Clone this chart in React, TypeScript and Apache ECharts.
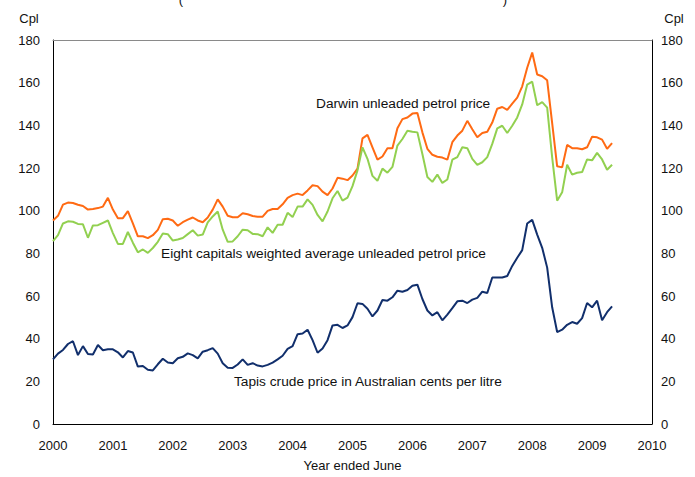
import React, { useEffect, useRef } from "react";
import * as echarts from "echarts";

const START_YEAR = 2000;
const yTicks = { min: 0, max: 180, step: 20 };
const xTicks = { min: 2000, max: 2010, step: 1 };

const darwin = [
  95.4, 97.6, 102.8, 103.8, 103.6, 102.8, 102.2, 100.5, 100.8, 101.2, 101.9, 106.0,
  100.5, 96.5, 96.5, 99.8, 94.0, 88.0, 88.0, 87.1, 88.5, 91.0, 96.0, 96.2,
  95.4, 92.9, 94.6, 95.8, 96.8, 95.4, 94.6, 96.8, 100.5, 105.3, 101.9, 97.6,
  96.9, 96.9, 98.8, 98.3, 97.5, 97.2, 97.2, 99.9, 100.8, 100.8, 103.0, 106.0,
  107.3, 108.0, 107.3, 109.5, 111.9, 111.5, 108.9, 107.3, 110.4, 115.4, 115.0, 114.3,
  116.5, 119.7, 133.9, 135.5, 129.7, 123.9, 125.4, 129.3, 129.3, 138.6, 142.9, 143.7,
  145.5, 145.8, 136.7, 129.0, 126.2, 125.3, 124.9, 123.9, 132.1, 135.2, 137.5, 142.1,
  138.2, 134.4, 136.4, 137.0, 141.3, 147.8, 148.6, 147.2, 150.2, 153.0, 158.3, 167.0,
  174.1, 163.8, 163.0, 161.1, 141.0, 120.8, 120.3, 130.8, 129.3, 129.3, 128.8, 129.7,
  134.7, 134.4, 133.3, 129.0, 131.7,
];

const eightCapitals = [
  85.7, 88.5, 94.0, 95.0, 94.8, 93.8, 93.6, 87.3, 93.1, 93.2, 94.3, 95.4,
  89.5, 84.4, 84.4, 90.0, 85.0, 80.5, 81.8, 80.2, 82.5, 85.4, 89.3, 89.0,
  86.0, 86.5, 87.2, 89.0, 90.8, 88.3, 88.8, 94.5, 97.3, 99.6, 91.1, 85.4,
  85.6, 88.0, 91.1, 90.8, 89.1, 89.0, 88.0, 92.2, 89.6, 93.4, 93.4, 99.0,
  97.0, 101.9, 101.9, 105.3, 102.7, 98.0, 95.0, 99.6, 105.8, 109.2, 104.7, 106.1,
  111.5, 118.9, 129.7, 124.3, 116.3, 114.0, 119.7, 117.8, 120.5, 130.5, 133.6, 137.5,
  137.0, 136.7, 126.6, 115.8, 113.5, 116.9, 113.0, 114.6, 123.9, 125.1, 129.7, 129.3,
  124.3, 121.5, 122.7, 125.1, 131.3, 138.6, 139.8, 136.4, 139.8, 143.7, 149.8, 159.1,
  160.5, 149.4, 150.9, 148.3, 125.0, 104.7, 108.6, 121.5, 116.9, 117.8, 118.1, 124.0,
  123.6, 127.1, 124.0, 119.2, 121.5,
];

const tapis = [
  30.3, 33.0, 34.7, 37.5, 38.8, 32.3, 36.5, 32.8, 32.6, 37.0, 34.6, 35.0,
  35.0, 33.6, 31.2, 34.2, 33.5, 26.9, 27.2, 25.4, 25.1, 28.0, 30.6, 28.8,
  28.5, 30.8, 31.5, 33.1, 32.3, 30.8, 33.9, 34.6, 35.6, 33.0, 28.5, 26.4,
  26.3, 27.9, 30.3, 27.7, 28.5, 27.4, 27.0, 27.7, 28.8, 30.3, 32.0, 35.2,
  36.5, 42.1, 42.4, 44.2, 39.3, 33.4, 35.4, 39.3, 46.2, 46.5, 45.0, 46.2,
  50.1, 56.6, 56.3, 54.0, 50.4, 53.2, 58.1, 57.8, 59.4, 62.5, 62.0, 62.8,
  64.8, 65.3, 58.6, 53.2, 50.9, 52.4, 48.6, 51.3, 54.3, 57.5, 57.8, 56.7,
  58.3, 59.1, 62.0, 61.4, 68.7, 68.7, 68.7, 69.4, 74.1, 77.9, 81.5, 94.0,
  95.7, 88.8, 82.6, 73.3, 54.7, 43.1, 44.2, 46.5, 47.8, 47.0, 49.6, 56.7,
  54.7, 57.8, 48.6, 52.4, 55.1,
];

const seriesNames = [
  "Darwin unleaded petrol price",
  "Eight capitals weighted average unleaded petrol price",
  "Tapis crude price in Australian cents per litre",
];
const unitLabel = "Cpl";
const xAxisTitle = "Year ended June";

const FONT = "'Liberation Sans', Arial, sans-serif";

function toPoints(values: number[]) {
  return values.map((v, i) => [START_YEAR + i / 12, v]);
}

export default function App() {
  const ref = useRef<HTMLDivElement>(null);
  useEffect(() => {
    document.body.style.margin = "0";
    if (!ref.current) return;
    const chart = echarts.init(ref.current, undefined, { renderer: "svg" });
    const yAxisBase = {
      type: "value" as const,
      min: yTicks.min,
      max: yTicks.max,
      interval: yTicks.step,
      axisLine: { show: true, lineStyle: { color: "#000", width: 1 } },
      axisTick: { show: false },
      splitLine: { show: false },
    };
    const txt = (text: string, x: number, y: number, align = "left", size = 13) => ({
      type: "text",
      x,
      y,
      style: {
        text,
        fill: "#111",
        font: `${size}px ${FONT}`,
        align,
        verticalAlign: "middle",
      },
      silent: true,
    });
    chart.setOption({
      animation: false,
      backgroundColor: "#fff",
      grid: { left: 53, right: 43, top: 40, bottom: 49, containLabel: false },
      xAxis: [
        {
          type: "value",
          min: xTicks.min,
          max: xTicks.max,
          interval: xTicks.step,
          position: "bottom",
          axisLine: { show: true, onZero: false, lineStyle: { color: "#000", width: 1 } },
          axisTick: { show: false },
          splitLine: { show: false },
          axisLabel: {
            color: "#111",
            fontSize: 13,
            fontFamily: FONT,
            margin: 15,
            formatter: (v: number) => String(v),
          },
          name: xAxisTitle,
          nameLocation: "middle",
          nameGap: 35,
          nameTextStyle: { color: "#111", fontSize: 13, fontFamily: FONT },
        },
        {
          type: "value",
          min: xTicks.min,
          max: xTicks.max,
          interval: xTicks.step,
          position: "top",
          axisLine: { show: true, onZero: false, lineStyle: { color: "#8a8a8a", width: 1 } },
          axisTick: { show: false },
          splitLine: { show: false },
          axisLabel: { show: false },
        },
      ],
      yAxis: [
        {
          ...yAxisBase,
          position: "left",
          axisLabel: { color: "#111", fontSize: 13, fontFamily: FONT, margin: 13 },
        },
        {
          ...yAxisBase,
          position: "right",
          axisLabel: { color: "#111", fontSize: 13, fontFamily: FONT, margin: 9 },
        },
      ],
      series: [
        {
          name: seriesNames[0],
          type: "line",
          data: toPoints(darwin),
          showSymbol: false,
          symbol: "none",
          lineStyle: { color: "#ff6a13", width: 2 },
          itemStyle: { color: "#ff6a13" },
        },
        {
          name: seriesNames[1],
          type: "line",
          data: toPoints(eightCapitals),
          showSymbol: false,
          symbol: "none",
          lineStyle: { color: "#92d050", width: 2 },
          itemStyle: { color: "#92d050" },
        },
        {
          name: seriesNames[2],
          type: "line",
          data: toPoints(tapis),
          showSymbol: false,
          symbol: "none",
          lineStyle: { color: "#112f6c", width: 2 },
          itemStyle: { color: "#112f6c" },
        },
      ],
      graphic: [
        txt("(", 181, -1, "center"),
        txt(")", 505, -1, "center"),
        txt(unitLabel, 29, 18, "center"),
        txt(unitLabel, 674, 18, "center"),
        txt(seriesNames[0], 316, 103, "left", 13.7),
        txt(seriesNames[1], 161, 253, "left", 13.7),
        txt(seriesNames[2], 234, 381, "left", 13.7),
      ],
    });
    return () => chart.dispose();
  }, []);
  return <div ref={ref} style={{ width: 695, height: 477 }} />;
}
